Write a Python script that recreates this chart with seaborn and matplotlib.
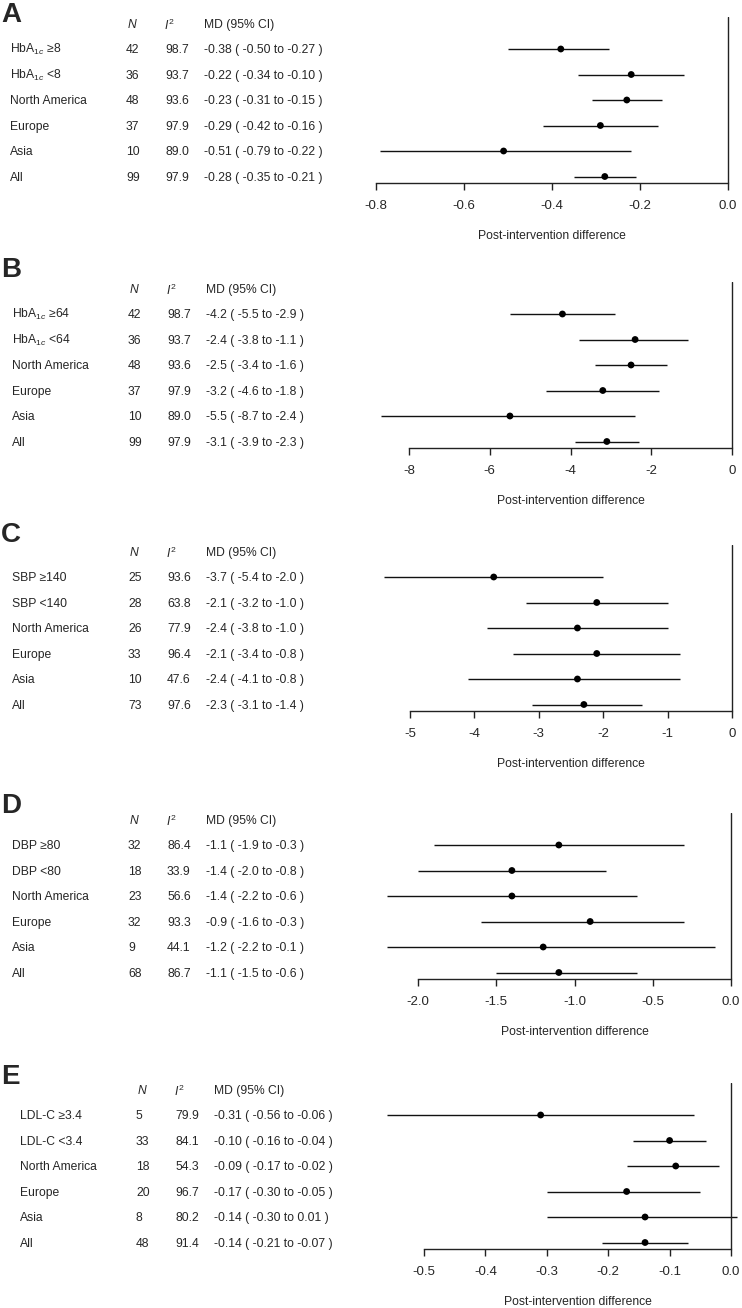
import matplotlib
matplotlib.use("Agg")
import matplotlib.pyplot as plt
import seaborn as sns
import numpy as np
import pandas as pd

# ---- data ----
groups = ["North America", "Europe", "Asia", "All"]

a_labels = ["HbA$_{1c}$ \u22658", "HbA$_{1c}$ <8"] + groups
a_n = [42, 36, 48, 37, 10, 99]
a_i2 = [98.7, 93.7, 93.6, 97.9, 89.0, 97.9]
a_md = [-0.38, -0.22, -0.23, -0.29, -0.51, -0.28]
a_lo = [-0.50, -0.34, -0.31, -0.42, -0.79, -0.35]
a_hi = [-0.27, -0.10, -0.15, -0.16, -0.22, -0.21]
a_ticks = [-0.8, -0.6, -0.4, -0.2, 0.0]

b_labels = ["HbA$_{1c}$ \u226564", "HbA$_{1c}$ <64"] + groups
b_n = [42, 36, 48, 37, 10, 99]
b_i2 = [98.7, 93.7, 93.6, 97.9, 89.0, 97.9]
b_md = [-4.2, -2.4, -2.5, -3.2, -5.5, -3.1]
b_lo = [-5.5, -3.8, -3.4, -4.6, -8.7, -3.9]
b_hi = [-2.9, -1.1, -1.6, -1.8, -2.4, -2.3]
b_ticks = [-8, -6, -4, -2, 0]

c_labels = ["SBP \u2265140", "SBP <140"] + groups
c_n = [25, 28, 26, 33, 10, 73]
c_i2 = [93.6, 63.8, 77.9, 96.4, 47.6, 97.6]
c_md = [-3.7, -2.1, -2.4, -2.1, -2.4, -2.3]
c_lo = [-5.4, -3.2, -3.8, -3.4, -4.1, -3.1]
c_hi = [-2.0, -1.0, -1.0, -0.8, -0.8, -1.4]
c_ticks = [-5, -4, -3, -2, -1, 0]

d_labels = ["DBP \u226580", "DBP <80"] + groups
d_n = [32, 18, 23, 32, 9, 68]
d_i2 = [86.4, 33.9, 56.6, 93.3, 44.1, 86.7]
d_md = [-1.1, -1.4, -1.4, -0.9, -1.2, -1.1]
d_lo = [-1.9, -2.0, -2.2, -1.6, -2.2, -1.5]
d_hi = [-0.3, -0.8, -0.6, -0.3, -0.1, -0.6]
d_ticks = [-2.0, -1.5, -1.0, -0.5, 0.0]

e_labels = ["LDL-C \u22653.4", "LDL-C <3.4"] + groups
e_n = [5, 33, 18, 20, 8, 48]
e_i2 = [79.9, 84.1, 54.3, 96.7, 80.2, 91.4]
e_md = [-0.31, -0.10, -0.09, -0.17, -0.14, -0.14]
e_lo = [-0.56, -0.16, -0.17, -0.30, -0.30, -0.21]
e_hi = [-0.06, -0.04, -0.02, -0.05, 0.01, -0.07]
e_ticks = [-0.5, -0.4, -0.3, -0.2, -0.1, 0.0]

# ---- layout (pixels) ----
W, H = 742, 1308
panels = [
    # letter, labels, n, i2, md, lo, hi, ticks, decimals, tick fmt, top px, letter y, x offset, left tick px
    ("A", a_labels, a_n, a_i2, a_md, a_lo, a_hi, a_ticks, 2, "{:.1f}", 17, 15, -2, 376),
    ("B", b_labels, b_n, b_i2, b_md, b_lo, b_hi, b_ticks, 1, "{:.0f}", 282, 270, 0, 409),
    ("C", c_labels, c_n, c_i2, c_md, c_lo, c_hi, c_ticks, 1, "{:.0f}", 545, 535, 0, 410),
    ("D", d_labels, d_n, d_i2, d_md, d_lo, d_hi, d_ticks, 1, "{:.1f}", 813, 806, 0, 418),
    ("E", e_labels, e_n, e_i2, e_md, e_lo, e_hi, e_ticks, 2, "{:.1f}", 1083, 1077, 8, 424),
]
zero_px = [728, 732, 732, 731, 731]
AX_L, AX_R, AX_H = 370, 742, 166
ROW0, ROW_STEP = 32, 25.5

sns.set_style("ticks")
plt.rcParams["font.family"] = ["Liberation Sans", "DejaVu Sans"]
plt.rcParams["mathtext.fontset"] = "custom"
plt.rcParams["mathtext.rm"] = "Liberation Sans"
plt.rcParams["mathtext.it"] = "Liberation Sans:italic"
plt.rcParams["axes.unicode_minus"] = False

fig = plt.figure(figsize=(W / 100, H / 100), dpi=100)


def fx(px):
    return px / W


def fy(py):
    return 1 - py / H


FS = 8.7
for k, (letter, labels, n, i2, md, lo, hi, ticks, dec, tfmt, top, ly, xo, p0) in enumerate(panels):
    p1 = zero_px[k]
    t0 = ticks[0]
    scale = (p1 - p0) / (0 - t0)
    ax = fig.add_axes([fx(AX_L), fy(top + AX_H), fx(AX_R - AX_L), AX_H / H])

    rows = np.arange(len(labels))
    df = pd.DataFrame({"row": rows, "md": md, "lo": lo, "hi": hi})
    ax.hlines(df["row"], df["lo"], df["hi"], color="#111111", lw=1.0)
    sns.scatterplot(data=df, x="md", y="row", ax=ax, color="black", s=24,
                    edgecolor="none", zorder=3, legend=False)

    ax.set_xlim(t0 - (p0 - AX_L) / scale, (AX_R - p1) / scale)
    ax.set_ylim(5 + 6.5 / ROW_STEP, -ROW0 / ROW_STEP)
    ax.axvline(0, color="#222222", lw=1.0)
    for s in ["top", "right", "left"]:
        ax.spines[s].set_visible(False)
    ax.spines["bottom"].set_bounds(t0, 0)
    ax.spines["bottom"].set_color("#222222")
    ax.spines["bottom"].set_linewidth(1.0)
    ax.set_yticks([])
    ax.set_xticks(ticks)
    ax.set_xticklabels([tfmt.format(t) if t != 0 else tfmt.format(0.0) for t in ticks])
    ax.tick_params(axis="x", length=5, width=1.0, pad=7, labelsize=9.5, color="#222222")
    ax.set_xlabel("")
    ax.set_ylabel("")
    ax.patch.set_alpha(0)

    fig.text(fx((p0 + p1) / 2), fy(top + AX_H + 53), "Post-intervention difference",
             ha="center", va="center", fontsize=FS)

    # panel letter and table
    fig.text(fx(1), fy(ly), letter, fontsize=20, fontweight="bold", ha="left", va="center")
    hy = top + 8
    fig.text(fx(130 + xo), fy(hy), "N", fontsize=FS, style="italic", ha="left", va="center")
    fig.text(fx(166 + xo), fy(hy), r"$I^{\mathrm{2}}$", fontsize=FS, ha="left", va="center")
    fig.text(fx(206 + xo), fy(hy), "MD (95% CI)", fontsize=FS, ha="left", va="center")
    for i in range(len(labels)):
        yb = top + ROW0 + ROW_STEP * i + 4.3
        fig.text(fx(12 + xo), fy(yb), labels[i], fontsize=FS, ha="left", va="baseline")
        fig.text(fx(128 + xo), fy(yb), str(n[i]), fontsize=FS, ha="left", va="baseline")
        fig.text(fx(167 + xo), fy(yb), f"{i2[i]:.1f}", fontsize=FS, ha="left", va="baseline")
        md_txt = f"{md[i]:.{dec}f} ( {lo[i]:.{dec}f} to {hi[i]:.{dec}f} )"
        fig.text(fx(206 + xo), fy(yb), md_txt, fontsize=FS, ha="left", va="baseline")

fig.savefig("out.png", dpi=100)
